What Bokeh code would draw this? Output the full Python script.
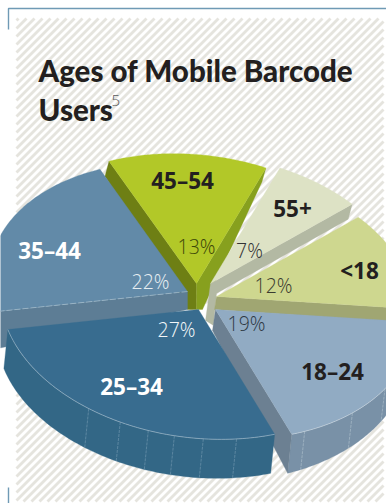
import numpy as np
from bokeh.plotting import figure
from bokeh.core.properties import value
from bokeh.embed import file_html
from bokeh.resources import INLINE

# Chart data, clockwise from the top of the pie
age_groups = ["55+", "<18", "18–24", "25–34", "35–44", "45–54"]
shares = [7, 12, 19, 27, 22, 13]

# Tilted-disc projection of the pie
START_ANGLE = 22.34
AXIS_X = (197.7, -6.2)
AXIS_Y = (10.84, -129.4)

# Exploded position of every wedge point
apexes = {"55+": (210, 283), "<18": (216, 296), "18–24": (215, 309),
          "25–34": (198, 309), "35–44": (187, 291), "45–54": (196, 283)}

top_colors = {"55+": "#dde2c5", "<18": "#ced78f", "18–24": "#91abc3",
              "25–34": "#386c8f", "35–44": "#628aa8", "45–54": "#b2c828"}
rim_colors = {"18–24": "#7991a7", "25–34": "#336786"}

# Extrusion depth at the start and the end of each wedge's rim
depths = {"55+": (15, 15), "<18": (14, 14), "18–24": (27, 39),
          "25–34": (39, 39), "35–44": (38, 24), "45–54": (15, 14)}
SHIFT_X = -4

seams = {"25–34": [170.7, 180.4, 188.8, 196.5, 205.1, 215.5],
         "18–24": [122.8, 138.0, 155.0]}

bounds = {}
a = START_ANGLE
for name, share in zip(age_groups, shares):
    bounds[name] = (a, a + share * 3.6)
    a += share * 3.6


def rim(name, theta):
    s, c = np.sin(np.radians(theta)), np.cos(np.radians(theta))
    ax, ay = apexes[name]
    return ax + AXIS_X[0] * s + AXIS_X[1] * c, ay + AXIS_Y[0] * s + AXIS_Y[1] * c


def depth_at(name, theta):
    t0, t1 = bounds[name]
    return depths[name][0] + (depths[name][1] - depths[name][0]) * (theta - t0) / (t1 - t0)


def lower(name, theta):
    x, y = rim(name, theta)
    return x + SHIFT_X, y + depth_at(name, theta)


p = figure(width=386, height=503, x_range=(0, 386), y_range=(503, 0),
           output_backend="svg", toolbar_location=None, min_border=0)
p.axis.visible = False
p.grid.visible = False
p.outline_line_color = None
p.background_fill_color = "white"
p.border_fill_color = "white"

# Diagonal hatching of the panel
L, R, T, B = 16, 383, 18, 501
x0s, y0s, x1s, y1s = [], [], [], []
for c in np.arange(L + T + 2, R + B, 8.0):
    xa = max(L, c - B)
    xb = min(R, c - T)
    if xb > xa:
        x0s.append(xa); y0s.append(c - xa); x1s.append(xb); y1s.append(c - xb)
p.segment(x0s, y0s, x1s, y1s, line_color="#e5e4de", line_width=2.9)

# Frame corners
p.line([8, 8, 386], [29, 8, 8], line_color="#6f9ab5", line_width=1.4)
p.line([8, 8], [487, 503], line_color="#6f9ab5", line_width=1.4)

# White gap showing through at the hub
p.scatter([207], [317], size=28, marker="circle", fill_color="white", line_color=None)


def fill(poly, color):
    p.patch([q[0] for q in poly], [q[1] for q in poly], fill_color=color, line_color=color, line_width=0.3)


def offset(pt, dx, dy):
    return pt[0] + dx, pt[1] + dy


def top(name):
    t0, t1 = bounds[name]
    arc = [rim(name, t) for t in np.linspace(t0, t1, 90)]
    fill([apexes[name]] + arc, top_colors[name])


def rim_wall(name):
    t0, t1 = bounds[name]
    ts = np.linspace(t0, t1, 90)
    fill([rim(name, t) for t in ts] + [lower(name, t) for t in ts[::-1]], rim_colors[name])


def draw_seams(name, color):
    for t in seams[name]:
        up, lo = rim(name, t), lower(name, t)
        p.line([up[0], lo[0]], [up[1], lo[1]], line_color=color, line_width=0.7, line_dash="3 1")


def rim_edge(name, t0, t1, color):
    arc = [rim(name, t) for t in np.linspace(t0, t1, 80)]
    p.line([q[0] for q in arc], [q[1] for q in arc], line_color=color, line_width=0.7)


# 45-54 wedge with both radial walls
n = "45–54"
ap = apexes[n]
fill([ap, rim(n, bounds[n][0]), lower(n, bounds[n][0]), offset(ap, -9, 26), offset(ap, 0, 26)], "#6e7f14")
fill([ap, rim(n, bounds[n][1]), lower(n, bounds[n][1]), offset(ap, 6, 26), offset(ap, 0, 26)], "#87a01e")

# 55+ wedge, its wall running behind the <18 wedge
n = "55+"
ap = apexes[n]
fill([ap, rim(n, bounds[n][1]), lower(n, bounds[n][1]), offset(ap, 6, 10), offset(ap, 3, 42), offset(ap, -5, 37)], "#b3b9a3")
top("45–54")
top(n)

# <18 wedge
n = "<18"
ap = apexes[n]
fill([ap, rim(n, bounds[n][1]), lower(n, bounds[n][1]), offset(ap, -2, 13)], "#a0a672")
top(n)

# 18-24 wedge
n = "18–24"
ap = apexes[n]
rim_wall(n)
fill([ap, rim(n, bounds[n][1]), lower(n, bounds[n][1]), offset(ap, -3, 21)], "#6c8092")
draw_seams(n, "#a9bcc9")
top(n)
rim_edge(n, bounds[n][0], bounds[n][1], "#c8d6df")

# 35-44 wedge
n = "35–44"
ap = apexes[n]
fill([ap, rim(n, bounds[n][0]), lower(n, bounds[n][0]), offset(ap, 0, 18)], "#5d7d95")
top(n)
edge = rim(n, bounds[n][0])
p.line([ap[0], edge[0]], [ap[1], edge[1]], line_color="#a9c0cf", line_width=0.7, line_dash="6 2")

# 25-34 wedge sits in front of the others
n = "25–34"
rim_wall(n)
draw_seams(n, "#6d94ac")
top(n)
rim_edge(n, bounds[n][0], bounds[n][1], "#9db8c9")

# Title
p.text([38, 38], [70, 109], text=["Ages of Mobile Barcode", "Users"], text_font=value("Lato Black, Open Sans"),
       text_font_style="bold", text_font_size="29.5px", text_color="#231f20",
       text_align="left", text_baseline="alphabetic")
p.text([111], [100], text=["5"], text_font=value("Open Sans Light, Open Sans"), text_font_size="15px",
       text_color="#58595b", text_align="left", text_baseline="alphabetic")

# Age labels
label_x = [292, 359, 332, 131, 49, 182]
label_y = [208, 270, 371, 386, 250, 180]
label_colors = ["#231f20", "#231f20", "#231f20", "white", "white", "#231f20"]
p.text(label_x, label_y, text=age_groups, text_font=value("Open Sans"), text_font_style="bold",
       text_font_size="22.5px", text_color=label_colors, text_align="center", text_baseline="middle")

# Percentages
pct_x = [249, 273, 246, 176, 150, 196]
pct_y = [250, 285, 323, 329, 281, 246]
pct_colors = ["#333335", "#3a3c30", "#2f3a45", "#f2f6f8", "#e6edf1", "#3c4708"]
p.text(pct_x, pct_y, text=[f"{s}%" for s in shares], text_font=value("Open Sans Light, Open Sans"),
       text_font_size="19.5px", text_color=pct_colors, text_align="center", text_baseline="middle")

open("out.html", "w").write(file_html(p, INLINE))
